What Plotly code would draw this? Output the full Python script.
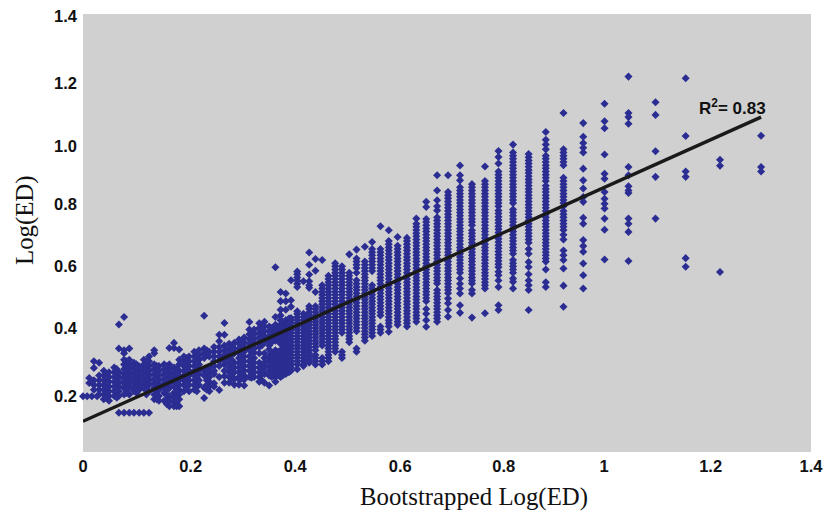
import plotly.graph_objects as go

x_columns = [
    0.0, 0.008, 0.012, 0.017, 0.021, 0.027, 0.031, 0.04, 0.05, 0.06, 0.069, 0.079, 0.089, 0.098, 0.108,
    0.117, 0.127, 0.137, 0.146, 0.156, 0.166, 0.175, 0.185, 0.194, 0.204, 0.214, 0.223, 0.233, 0.243,
    0.252, 0.262, 0.272, 0.281, 0.291, 0.30, 0.31, 0.32, 0.329, 0.339, 0.349, 0.358, 0.37, 0.38, 0.39,
    0.40, 0.412, 0.424, 0.435, 0.447, 0.46, 0.472, 0.485, 0.498, 0.512, 0.526, 0.542, 0.556, 0.572,
    0.588, 0.605, 0.623, 0.641, 0.66, 0.681, 0.702, 0.725, 0.748, 0.773, 0.799, 0.827, 0.857, 0.89,
    0.924, 0.962, 1.003, 1.049, 1.101, 1.159, 1.225, 1.304,
]

y_columns = [
    [.199], [.199], [.257,.241], [.199], [.31,.289,.25,.235,.22], [.199],
    [.305,.265,.25,.235,.22,.205],
    [.28,.265,.25,.235,.22,.205,.19],
    [.275,.26,.245,.23,.215,.20,.185],
    [.29,.275,.26,.245,.23,.215,.20],
    [.426,.35,.275,.26,.245,.23,.215,.20,.147],
    [.45,.345,.335,.315,.30,.285,.27,.255,.24,.225,.205,.147],
    [.35,.315,.30,.285,.27,.255,.24,.225,.205,.147],
    [.305,.29,.275,.26,.245,.23,.215,.147],
    [.294,.28,.265,.25,.235,.22,.147],
    [.315,.30,.285,.27,.255,.24,.225,.147],
    [.325,.31,.295,.28,.265,.25,.235,.215,.147],
    [.345,.335,.30,.285,.27,.255,.24,.225,.205,.19],
    [.295,.28,.265,.25,.235,.22,.20,.185],
    [.30,.285,.27,.255,.24,.225,.21,.185],
    [.352,.30,.285,.27,.255,.24,.225,.20,.185,.168],
    [.368,.352,.29,.275,.26,.245,.23,.21,.195,.18,.168],
    [.347,.315,.30,.28,.265,.25,.235,.22,.205,.19,.168],
    [.325,.31,.295,.28,.265,.25,.235,.215],
    [.325,.31,.295,.28,.265,.25,.235,.215],
    [.34,.325,.31,.295,.28,.265,.25,.235,.22],
    [.345,.33,.315,.30,.285,.27,.25,.235],
    [.454,.35,.335,.32,.28,.265,.226,.194],
    [.34,.325,.29,.275,.26,.245,.23,.215],
    [.355,.34,.325,.31,.295,.28,.27,.24,.23],
    [.394,.373,.355,.34,.325,.31,.295,.26,.219],
    [.431,.394,.36,.345,.33,.315,.30,.28,.263,.242],
    [.365,.35,.335,.32,.305,.29,.275,.26,.242],
    [.368,.35,.335,.305,.29,.275,.255,.236],
    [.379,.365,.35,.335,.32,.305,.29,.275,.26,.252,.236],
    [.385,.37,.355,.34,.325,.31,.295,.28,.265,.252,.233],
    [.434,.41,.395,.38,.365,.347,.326,.31,.295,.28,.26],
    [.41,.395,.38,.365,.35,.337,.32,.305,.29,.275,.26],
    [.43,.415,.40,.385,.37,.355,.335,.305,.29,.275,.26,.245],
    [.435,.42,.405,.39,.37,.335,.32,.305,.29,.27,.242],
    [.42,.405,.39,.375,.36,.347,.325,.31,.295,.28,.265,.233],
    [.607,.45,.425,.41,.39,.375,.345,.33,.315,.30,.285,.27,.26,.245],
    [.529,.50,.473,.455,.44,.425,.41,.395,.38,.365,.345,.33,.315,.30,.285,.27,.26],
    [.524,.50,.473,.44,.43,.42,.41,.40,.39,.38,.37,.36,.35,.34,.33,.32,.31,.30,.29,.28,.27],
    [.566,.503,.482,.447,.44,.43,.42,.41,.40,.39,.38,.37,.36,.35,.34,.33,.32,.31,.30,.29,.28],
    [.594,.585,.575,.565,.555,.545,.468,.46,.45,.44,.43,.42,.41,.40,.39,.38,.37,.36,.35,.34,.33,.32,.31,.30,.285],
    [.563,.46,.45,.44,.43,.42,.41,.40,.39,.38,.37,.36,.35,.34,.33,.32,.31,.30,.295],
    [.654,.615,.584,.563,.55,.542,.484,.475,.465,.455,.445,.435,.425,.415,.405,.395,.385,.375,.365,.355,.345,.335,.325,.315,.305],
    [.633,.596,.529,.484,.475,.465,.455,.445,.435,.425,.415,.405,.395,.385,.375,.365,.355,.345,.33,.32,.31,.30],
    [.63,.55,.54,.53,.52,.51,.50,.49,.48,.47,.46,.45,.44,.43,.42,.41,.40,.39,.38,.37,.36,.32,.31,.30],
    [.58,.57,.56,.55,.54,.53,.52,.51,.50,.49,.48,.47,.46,.45,.44,.43,.42,.41,.40,.39,.38,.37,.36,.35,.34,.33,.32,.31],
    [.62,.61,.60,.59,.58,.57,.56,.55,.54,.53,.52,.51,.50,.49,.48,.47,.46,.45,.44,.43,.42,.41,.40,.39,.38,.37,.36,.35,.34],
    [.61,.60,.59,.58,.57,.56,.55,.54,.53,.52,.51,.50,.49,.48,.47,.46,.45,.44,.43,.42,.41,.40,.34,.33,.32],
    [.648,.59,.58,.57,.56,.55,.54,.53,.52,.51,.50,.49,.48,.47,.46,.45,.44,.43,.42,.41,.40,.39,.38,.37],
    [.663,.635,.625,.615,.605,.59,.566,.555,.545,.535,.525,.515,.505,.495,.485,.475,.465,.455,.445,.435,.425,.415,.405,.35,.34],
    [.672,.625,.615,.605,.595,.585,.575,.565,.555,.545,.535,.525,.515,.505,.495,.485,.475,.465,.455,.445,.435,.425,.415,.405,.395,.385,.375],
    [.687,.665,.655,.645,.635,.625,.615,.605,.595,.55,.54,.53,.52,.51,.50,.49,.48,.47,.46,.45,.44,.43,.42,.41,.40,.39],
    [.737,.665,.655,.645,.635,.625,.615,.605,.595,.585,.575,.565,.555,.545,.535,.525,.515,.505,.495,.485,.475,.465,.455,.42,.41,.40],
    [.724,.69,.68,.67,.66,.65,.64,.63,.62,.61,.60,.59,.58,.57,.56,.55,.54,.53,.52,.51,.50,.49,.48,.47,.46,.45,.44,.43,.42,.403],
    [.703,.675,.665,.655,.645,.635,.625,.615,.605,.595,.585,.575,.565,.555,.545,.535,.525,.515,.505,.495,.485,.475,.465,.455,.445,.435,.425],
    [.70,.69,.68,.67,.66,.65,.64,.63,.62,.61,.60,.59,.58,.57,.56,.55,.54,.53,.52,.51,.50,.49,.48,.47,.46,.45,.44,.43,.42],
    [.761,.745,.735,.725,.715,.705,.695,.685,.675,.665,.655,.645,.635,.625,.615,.605,.595,.585,.575,.565,.555,.545,.535,.525,.515,.505,.495,.485,.475,.465,.455,.445,.435],
    [.814,.798,.76,.75,.74,.73,.72,.71,.70,.69,.68,.67,.66,.65,.64,.63,.62,.61,.60,.59,.58,.57,.56,.55,.54,.53,.52,.51,.50,.475,.46,.44,.419],
    [.898,.85,.819,.80,.787,.765,.755,.745,.735,.725,.715,.705,.695,.685,.675,.665,.655,.645,.635,.625,.615,.605,.595,.585,.575,.565,.556,.535,.525,.515,.505,.495,.485,.475,.465,.455,.445,.435],
    [.898,.845,.835,.825,.815,.805,.795,.785,.775,.765,.755,.745,.735,.725,.715,.705,.695,.685,.675,.665,.655,.645,.635,.625,.615,.605,.595,.585,.575,.565,.555,.545,.535,.525,.508,.493,.472,.451],
    [.929,.898,.882,.86,.85,.84,.83,.82,.81,.80,.79,.78,.77,.76,.75,.74,.73,.72,.71,.70,.69,.68,.67,.66,.65,.64,.63,.62,.61,.60,.59,.572,.555,.54,.524,.487,.463],
    [.87,.86,.85,.84,.83,.82,.81,.80,.79,.78,.77,.76,.75,.74,.724,.715,.705,.695,.685,.675,.665,.655,.645,.635,.625,.615,.605,.595,.585,.575,.565,.556,.535,.524,.448],
    [.926,.88,.87,.86,.85,.84,.83,.82,.81,.80,.79,.78,.77,.76,.75,.74,.73,.72,.71,.70,.69,.68,.67,.66,.65,.64,.63,.62,.61,.60,.59,.58,.57,.56,.55,.54,.462],
    [.975,.956,.935,.91,.90,.89,.88,.87,.86,.85,.84,.83,.82,.81,.80,.787,.777,.767,.757,.747,.737,.727,.717,.707,.697,.687,.677,.667,.657,.647,.637,.627,.617,.607,.593,.582,.565,.545,.487,.472],
    [.995,.97,.96,.95,.94,.93,.92,.91,.90,.89,.88,.87,.86,.85,.84,.83,.82,.81,.79,.78,.77,.76,.75,.74,.73,.72,.71,.70,.69,.68,.67,.66,.65,.63,.62,.61,.60,.59,.572,.561,.54],
    [.965,.955,.945,.935,.925,.915,.905,.895,.885,.875,.865,.855,.845,.835,.825,.815,.805,.795,.785,.775,.765,.755,.745,.735,.725,.715,.705,.695,.685,.665,.65,.624,.608,.585,.565,.55,.535,.472],
    [1.035,1.01,.995,.98,.96,.95,.94,.93,.92,.91,.90,.89,.88,.865,.855,.845,.835,.825,.815,.805,.795,.785,.775,.765,.755,.745,.735,.725,.715,.705,.695,.685,.675,.665,.655,.645,.635,.625,.60,.56,.545],
    [1.095,.98,.97,.96,.95,.94,.93,.89,.88,.87,.86,.85,.84,.83,.82,.81,.80,.785,.775,.765,.755,.745,.735,.725,.71,.695,.66,.645,.63,.603,.549,.482],
    [1.063,1.02,1.0,.985,.97,.919,.882,.856,.829,.814,.764,.745,.693,.674,.656,.619,.582,.54],
    [1.124,1.069,1.047,.964,.903,.887,.845,.824,.808,.793,.761,.726,.632],
    [1.21,1.095,1.082,1.061,.924,.898,.863,.85,.842,.761,.745,.719,.627],
    [1.129,1.089,.974,.893,.761],
    [1.205,1.022,.91,.893,.636,.609],
    [.947,.928,.592],
    [1.023,.924,.91],
]

# Further columns read from the dense low-end cloud, between the ones above.
cloud_x_columns = [
    0.045, 0.065, 0.084, 0.103, 0.122, 0.142, 0.161, 0.18, 0.199, 0.219, 0.238,
    0.286, 0.305, 0.324, 0.344, 0.363, 0.375, 0.384, 0.396,
]
cloud_y_columns = [
    [.27,.255,.24,.225,.21,.195],
    [.285,.27,.255,.24,.225,.21,.195],
    [.31,.295,.28,.265,.25,.235,.22,.21],
    [.30,.285,.27,.255,.24,.225,.21],
    [.31,.295,.28,.265,.25,.235,.22,.205],
    [.295,.28,.265,.25,.235,.22,.205,.19],
    [.295,.28,.265,.25,.235,.22,.205,.19,.175],
    [.285,.27,.255,.24,.225,.21,.195,.18,.168],
    [.32,.305,.29,.275,.26,.245,.23],
    [.335,.32,.305,.29,.275,.26,.245,.23,.215],
    [.345,.33,.285,.27,.25,.235,.22],
    [.36,.345,.33,.315,.30,.285,.27,.255],
    [.375,.36,.345,.33,.315,.30,.285,.27,.255],
    [.40,.385,.37,.355,.34,.315,.30,.285,.27,.258],
    [.425,.41,.395,.38,.36,.30,.285,.27,.25],
    [.415,.40,.385,.37,.335,.32,.305,.29,.275,.26],
    [.42,.405,.39,.375,.34,.325,.31,.295,.28,.265],
    [.435,.42,.405,.39,.375,.36,.34,.325,.31,.295,.28,.265],
    [.445,.425,.41,.395,.38,.365,.35,.335,.32,.305,.29,.275],
]

trend_x = [0.0, 1.304]
trend_y = [0.12, 1.082]

x_tick_positions = [0, 0.207, 0.408, 0.61, 0.809, 1.002, 1.207, 1.4]
x_tick_labels = ["0", "0.2", "0.4", "0.6", "0.8", "1", "1.2", "1.4"]
y_tick_positions = [0.2, 0.413, 0.61, 0.808, 0.991, 1.19, 1.4]
y_tick_labels = ["0.2", "0.4", "0.6", "0.8", "1.0", "1.2", "1.4"]

xs, ys = [], []
for cx, col in zip(x_columns + cloud_x_columns, y_columns + cloud_y_columns):
    for v in col:
        xs.append(cx)
        ys.append(v)

fig = go.Figure()
fig.add_trace(go.Scatter(x=xs, y=ys, mode="markers", cliponaxis=False,
                         marker=dict(symbol="diamond", size=6.2, color="#2B2D92", line=dict(width=0))))
fig.add_trace(go.Scatter(x=trend_x, y=trend_y, mode="lines", cliponaxis=False,
                         line=dict(color="#1A1A1A", width=3.4)))

tick_font = dict(family="Liberation Sans", size=16.5, color="#111111", weight="bold")
fig.update_layout(
    width=830, height=512, autosize=False, showlegend=False,
    margin=dict(l=83, r=19, t=14, b=60),
    paper_bgcolor="white", plot_bgcolor="#D0D0D0",
    xaxis=dict(range=[0, 1.4], tickmode="array", tickvals=x_tick_positions, ticktext=x_tick_labels,
               showgrid=False, zeroline=False, showline=False, ticks="", tickfont=tick_font,
               ticklabelstandoff=2, automargin=False),
    yaxis=dict(range=[0.023, 1.408], tickmode="array", tickvals=y_tick_positions, ticktext=y_tick_labels,
               showgrid=False, zeroline=False, showline=False, ticks="", tickfont=tick_font,
               ticklabelstandoff=5, automargin=False),
)
serif = dict(family="Liberation Serif", size=24.8, color="#111111")
fig.add_annotation(text="Bootstrapped Log(ED)", xref="paper", yref="paper", x=(474 - 83) / 728, y=(452 - 497) / 438,
                   showarrow=False, font=serif, xanchor="center", yanchor="middle")
fig.add_annotation(text="Log(ED)", xref="paper", yref="paper", x=(25 - 83) / 728, y=(452 - 220) / 438,
                   showarrow=False, font=serif, textangle=-90, xanchor="center", yanchor="middle")
fig.add_annotation(text="<b>R<sup>2</sup>= 0.83</b>", xref="paper", yref="paper", x=(732 - 83) / 728, y=(452 - 107) / 438,
                   showarrow=False, font=dict(family="Liberation Sans", size=17, color="#111111"),
                   xanchor="center", yanchor="middle")

fig.write_html("out.html", config={"displayModeBar": False},
               post_script="document.body.style.margin='0';document.body.style.overflow='hidden';")
